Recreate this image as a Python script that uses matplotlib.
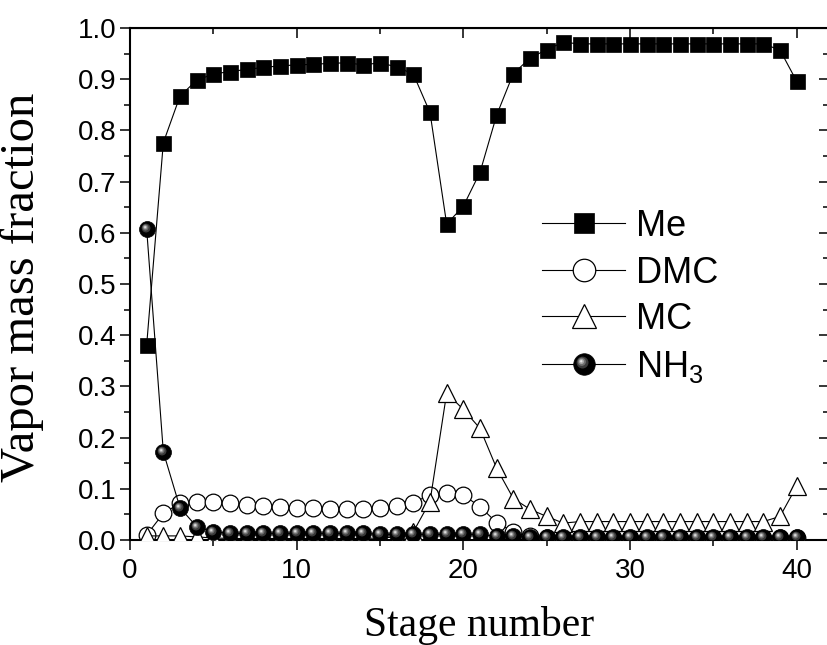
"""
Vapor mass fraction profile along the column stages
"""

import numpy as np
import matplotlib
matplotlib.use("Agg")
import matplotlib.pyplot as plt
from matplotlib.path import Path
from matplotlib.legend_handler import HandlerTuple

plt.rcParams['font.family'] = 'Liberation Sans'
plt.rcParams['mathtext.default'] = 'regular'

# Data
stages = np.arange(1, 41)

me = [0.381, 0.776, 0.867, 0.898, 0.910, 0.915, 0.919, 0.923, 0.926, 0.928,
      0.929, 0.931, 0.932, 0.928, 0.932, 0.924, 0.910, 0.835, 0.617, 0.652,
      0.718, 0.830, 0.911, 0.941, 0.958, 0.972, 0.969, 0.969, 0.969, 0.969,
      0.969, 0.969, 0.969, 0.969, 0.969, 0.969, 0.969, 0.969, 0.957, 0.896]

dmc = [0.010, 0.052, 0.072, 0.075, 0.075, 0.073, 0.068, 0.066, 0.065, 0.063,
       0.062, 0.061, 0.060, 0.060, 0.062, 0.067, 0.073, 0.088, 0.091, 0.088,
       0.065, 0.034, 0.016, 0.008, 0.004, 0.003, 0.003, 0.003, 0.003, 0.003,
       0.003, 0.003, 0.003, 0.003, 0.003, 0.003, 0.003, 0.003, 0.003, 0.003]

mc = [0.008, 0.008, 0.008, 0.006, 0.004, 0.003, 0.003, 0.003, 0.003, 0.003,
      0.003, 0.003, 0.003, 0.003, 0.004, 0.006, 0.016, 0.075, 0.287, 0.255,
      0.218, 0.140, 0.081, 0.060, 0.046, 0.033, 0.036, 0.036, 0.036, 0.036,
      0.036, 0.036, 0.036, 0.036, 0.036, 0.036, 0.036, 0.036, 0.046, 0.105]

nh3 = [0.607, 0.172, 0.063, 0.026, 0.016, 0.013, 0.013, 0.013, 0.013, 0.013,
       0.013, 0.013, 0.013, 0.013, 0.011, 0.011, 0.011, 0.011, 0.011, 0.011,
       0.011, 0.007, 0.007, 0.006, 0.006, 0.006, 0.006, 0.006, 0.006, 0.006,
       0.006, 0.006, 0.006, 0.006, 0.006, 0.006, 0.006, 0.006, 0.006, 0.006]


def highlight(cx, cy, r):
    # circle shifted inside the marker box, two lone points keep the scale
    c = Path.circle(center=(cx, cy), radius=r)
    verts = np.vstack([[[-1, -1], [1, 1]], c.vertices])
    codes = np.concatenate([[Path.MOVETO, Path.MOVETO], c.codes])
    return Path(verts, codes)


fig = plt.figure(figsize=(8.28, 6.45), dpi=100)
ax = fig.add_axes([130 / 828, 105 / 645, 699 / 828, 512 / 645])

lw = 0.8
l_me, = ax.plot(stages, me, '-s', color='black', lw=lw, ms=10.8,
                mfc='black', mec='black', mew=0.5, zorder=3, label='Me')
l_dmc, = ax.plot(stages, dmc, '-o', color='black', lw=lw, ms=12,
                 mfc='white', mec='black', mew=0.9, zorder=4, label='DMC')
l_mc, = ax.plot(stages, mc, '-^', color='black', lw=lw, ms=12.5,
                mfc='white', mec='black', mew=0.9, zorder=5, label='MC')
l_nh3, = ax.plot(stages, nh3, '-o', color='black', lw=lw, ms=11.5,
                 mfc='black', mec='black', mew=0.5, zorder=6)

# shading of the balls
shades = [('#3a3a3a', -0.18, 0.18, 0.55),
          ('#6e6e6e', -0.25, 0.25, 0.38),
          ('#a8a8a8', -0.28, 0.28, 0.24),
          ('#e8e8e8', -0.30, 0.30, 0.11)]
hl_lines = []
for col, cx, cy, r in shades:
    h, = ax.plot(stages, nh3, ls='none', marker=highlight(cx, cy, r),
                 ms=11.5, mfc=col, mew=0, zorder=7)
    hl_lines.append(h)

ax.set_xlim(0, 41.94)
ax.set_ylim(0, 1.0)
ax.set_xticks([0, 10, 20, 30, 40])
ax.set_xticks(np.arange(5, 41, 10), minor=True)
ax.set_yticks(np.arange(0, 1.01, 0.1))
ax.set_yticks(np.arange(0.05, 1.0, 0.1), minor=True)
ax.set_yticklabels(['%.1f' % v for v in np.arange(0, 1.01, 0.1)])

for s in ax.spines.values():
    s.set_linewidth(1.5)

ax.tick_params(which='both', labelsize=20, width=1.1, direction='out',
               top=False, right=False)
ax.tick_params(which='major', length=7, pad=3)
ax.tick_params(which='minor', length=4.5)
ax.tick_params(axis='x', which='major', pad=6)

# inward ticks on the top and right side
ax_t = ax.secondary_xaxis('top')
ax_t.set_xticks([0, 10, 20, 30, 40])
ax_t.set_xticks(np.arange(5, 41, 10), minor=True)
ax_t.tick_params(which='both', direction='in', labeltop=False, width=1.1)
ax_t.tick_params(which='major', length=7)
ax_t.tick_params(which='minor', length=4.5)
ax_r = ax.secondary_yaxis('right')
ax_r.set_yticks(np.arange(0, 1.01, 0.1))
ax_r.set_yticks(np.arange(0.05, 1.0, 0.1), minor=True)
ax_r.tick_params(which='both', direction='in', labelright=False, width=1.1)
ax_r.tick_params(which='major', length=7)
ax_r.tick_params(which='minor', length=4.5)

ax.set_xlabel('Stage number', family='Liberation Serif', fontsize=30)
ax.set_ylabel('Vapor mass fraction', family='Liberation Serif', fontsize=35)
ax.xaxis.set_label_coords(0.5, -0.128)
ax.yaxis.set_label_coords(-0.123, 0.494)

ax.legend([l_me, l_dmc, l_mc, tuple([l_nh3] + hl_lines)],
          ['Me', 'DMC', 'MC', 'NH$_3$'],
          handler_map={tuple: HandlerTuple(ndivide=1, pad=0)},
          loc='upper left', bbox_to_anchor=(542 / 828, 1 - 209 / 645),
          bbox_transform=fig.transFigure, frameon=False, fontsize=26,
          handlelength=2.3, handletextpad=0.3, labelspacing=0.32,
          markerscale=1.35, borderpad=0, borderaxespad=0)

fig.savefig('out.png', dpi=100)
